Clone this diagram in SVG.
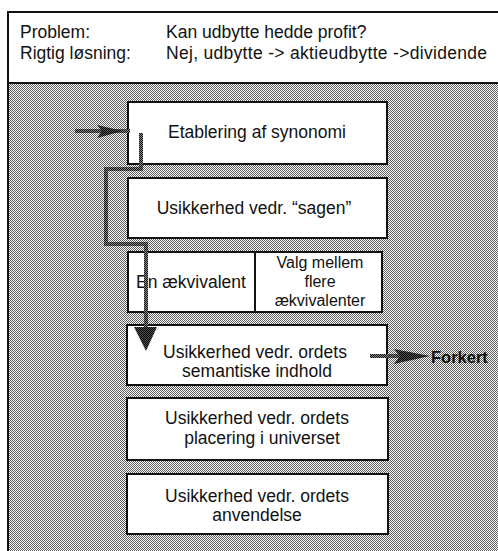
<svg xmlns="http://www.w3.org/2000/svg" width="498" height="551" viewBox="0 0 498 551">
  <style>
    .box { fill: #fff; stroke: #111; stroke-width: 2; }
    .txt { font-family: "Liberation Sans", Arial, sans-serif; font-size: 17.5px; fill: #111; text-anchor: middle; }
    .sm { font-size: 16px; }
    .hdr { font-family: "Liberation Sans", Arial, sans-serif; font-size: 17.5px; fill: #111; }
    .flow { fill: none; stroke: url(#darkDither); stroke-width: 4; }
    .head { fill: url(#headDither); }
  </style>
  <defs>
    <!-- light grey halftone for the background -->
    <pattern id="dither" width="2" height="2" patternUnits="userSpaceOnUse">
      <rect width="2" height="2" fill="#fff"/>
      <rect width="1" height="1" fill="#5a5a5a"/>
      <rect x="1" y="1" width="1" height="1" fill="#5a5a5a"/>
    </pattern>
    <!-- dark halftone used for the flow lines -->
    <pattern id="darkDither" width="2" height="2" patternUnits="userSpaceOnUse">
      <rect width="2" height="2" fill="#8a8a8a"/>
      <rect width="1" height="1" fill="#111"/>
      <rect x="1" y="1" width="1" height="1" fill="#111"/>
    </pattern>
    <pattern id="headDither" width="2" height="2" patternUnits="userSpaceOnUse">
      <rect width="2" height="2" fill="#555"/>
      <rect width="1" height="1" fill="#000"/>
      <rect x="1" y="1" width="1" height="1" fill="#000"/>
    </pattern>
  </defs>

  <!-- page frame -->
  <rect x="0" y="0" width="498" height="551" fill="#fff"/>
  <rect x="8" y="84" width="490" height="467" fill="url(#dither)"/>
  <g id="frame" fill="none" stroke="#111" stroke-width="2">
    <line x1="8" y1="12" x2="498" y2="12"/>
    <line x1="8" y1="11" x2="8" y2="551"/>
    <line x1="8" y1="83" x2="498" y2="83"/>
  </g>

  <!-- header -->
  <g id="header">
    <text class="hdr" x="20" y="38">Problem:</text>
    <text class="hdr" x="166" y="38">Kan udbytte hedde profit?</text>
    <text class="hdr" x="20" y="59">Rigtig løsning:</text>
    <text class="hdr" x="166" y="59" textLength="321" lengthAdjust="spacing">Nej, udbytte -&gt; aktieudbytte -&gt;dividende</text>
  </g>

  <!-- steps -->
  <g id="n1">
    <rect class="box" x="128" y="102" width="259" height="62"/>
    <text class="txt" x="257" y="138">Etablering af synonomi</text>
  </g>
  <g id="n2">
    <rect class="box" x="128" y="178" width="259" height="60"/>
    <text class="txt" x="254" y="214">Usikkerhed vedr. “sagen”</text>
  </g>
  <g id="n3a">
    <rect class="box" x="128" y="252" width="127" height="60"/>
    <text class="txt" x="191" y="288">En ækvivalent</text>
  </g>
  <g id="n3b">
    <rect class="box" x="255" y="252" width="127" height="60"/>
    <text class="txt sm" x="320" y="268">Valg mellem</text>
    <text class="txt sm" x="320" y="287">flere</text>
    <text class="txt sm" x="320" y="306">ækvivalenter</text>
  </g>
  <g id="n4">
    <rect class="box" x="127" y="325" width="260" height="60"/>
    <text class="txt" x="255" y="358">Usikkerhed vedr. ordets</text>
    <text class="txt" x="257" y="377">semantiske indhold</text>
  </g>
  <g id="n5">
    <rect class="box" x="127" y="398" width="261" height="62"/>
    <text class="txt" x="257" y="424">Usikkerhed vedr. ordets</text>
    <text class="txt" x="262" y="444">placering i universet</text>
  </g>
  <g id="n6">
    <rect class="box" x="127" y="474" width="261" height="60"/>
    <text class="txt" x="257" y="502">Usikkerhed vedr. ordets</text>
    <text class="txt" x="257" y="521">anvendelse</text>
  </g>

  <!-- flow lines -->
  <g id="connectors">
    <!-- entry -->
    <line class="flow" x1="75" y1="131" x2="130" y2="131" stroke-width="3"/>
    <path class="head" d="M97 125 L123 131 L97 138 L102 131 Z"/>
    <!-- route down through the steps -->
    <path class="flow" d="M141 133 V169 H106 V244 H146 V330"/>
    <path class="head" d="M134 327 L157 327 L146 351 Z"/>
    <!-- exit to Forkert -->
    <line class="flow" x1="370" y1="356" x2="400" y2="356" stroke-width="3"/>
    <path class="head" d="M394 349 L430 356 L394 364 L400 356 Z"/>
    <text x="431" y="363" font-family="Liberation Sans, Arial, sans-serif" font-size="16.5" font-weight="bold" fill="#111">Forkert</text>
  </g>
</svg>
